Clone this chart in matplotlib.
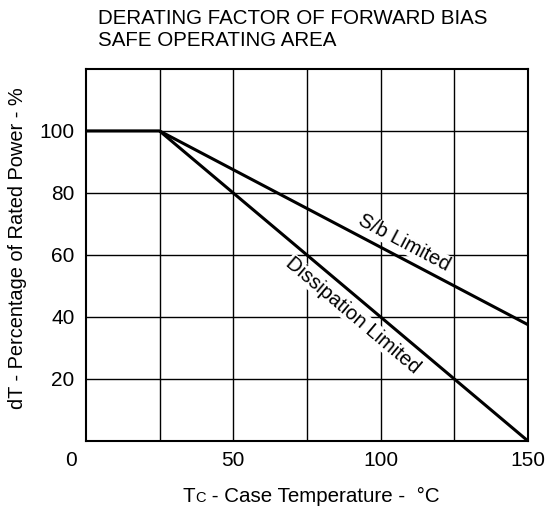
import matplotlib
matplotlib.use("Agg")
import matplotlib.pyplot as plt
from matplotlib.offsetbox import TextArea, HPacker, AnchoredOffsetbox

plt.rcParams['font.family'] = ['Liberation Sans', 'DejaVu Sans']

diss_x = [0, 25, 150]
diss_y = [100, 100, 0]
sb_x = [25, 150]
sb_y = [100, 37.5]
x_ticks = [50, 100, 150]
y_ticks = [20, 40, 60, 80, 100]
x_grid = [25, 50, 75, 100, 125]
y_grid = [20, 40, 60, 80, 100]

fig = plt.figure(figsize=(5.5, 5.14), dpi=100)
ax = fig.add_axes([0.156, 0.142, 0.804, 0.724])
ax.set_xlim(0, 150)
ax.set_ylim(0, 120)
for gx in x_grid:
    ax.axvline(gx, color='black', lw=1.0, zorder=1)
for gy in y_grid:
    ax.axhline(gy, color='black', lw=1.0, zorder=1)
ax.plot(diss_x, diss_y, color='black', lw=2.2, zorder=3, solid_capstyle='butt')
ax.plot(sb_x, sb_y, color='black', lw=2.2, zorder=3, solid_capstyle='butt')

for s in ax.spines.values():
    s.set_linewidth(1.5)
ax.set_xticks(x_ticks)
ax.set_yticks(y_ticks)
ax.tick_params(axis='x', length=0, labelsize=15, pad=7)
ax.tick_params(axis='y', length=0, labelsize=15, pad=8)
ax.text(71/550, 1 - 461/514, '0', transform=fig.transFigure, ha='center', va='center', fontsize=15)

ax.text(107.9, 63.9, 'S/b Limited', rotation=-27.9, rotation_mode='anchor',
        ha='center', va='center', fontsize=14.5, zorder=4,
        bbox=dict(facecolor='white', edgecolor='none', pad=0.3))
ax.text(90.6, 40.6, 'Dissipation Limited', rotation=-40.2, rotation_mode='anchor',
        ha='center', va='center', fontsize=14.5, zorder=4,
        bbox=dict(facecolor='white', edgecolor='none', pad=0.3))

fig.text(98/550, 1 - 18/514, 'DERATING FACTOR OF FORWARD BIAS', ha='left', va='center', fontsize=14.8)
fig.text(98/550, 1 - 41/514, 'SAFE OPERATING AREA', ha='left', va='center', fontsize=14.8)

fig.text(18/550, 1 - 248/514, 'dT - Percentage of Rated Power - %', rotation=90,
         ha='center', va='center', fontsize=14.4)

parts = HPacker(children=[TextArea('T', textprops=dict(fontsize=14.8)),
                          TextArea('C', textprops=dict(fontsize=10.5)),
                          TextArea(' - Case Temperature -  °C', textprops=dict(fontsize=14.8))],
                align='baseline', pad=0, sep=0)
ab = AnchoredOffsetbox(loc='center', child=parts, frameon=False,
                       bbox_to_anchor=(311/550, 1 - 496/514), bbox_transform=fig.transFigure,
                       borderpad=0, pad=0)
fig.add_artist(ab)

fig.savefig('out.png', dpi=100)
